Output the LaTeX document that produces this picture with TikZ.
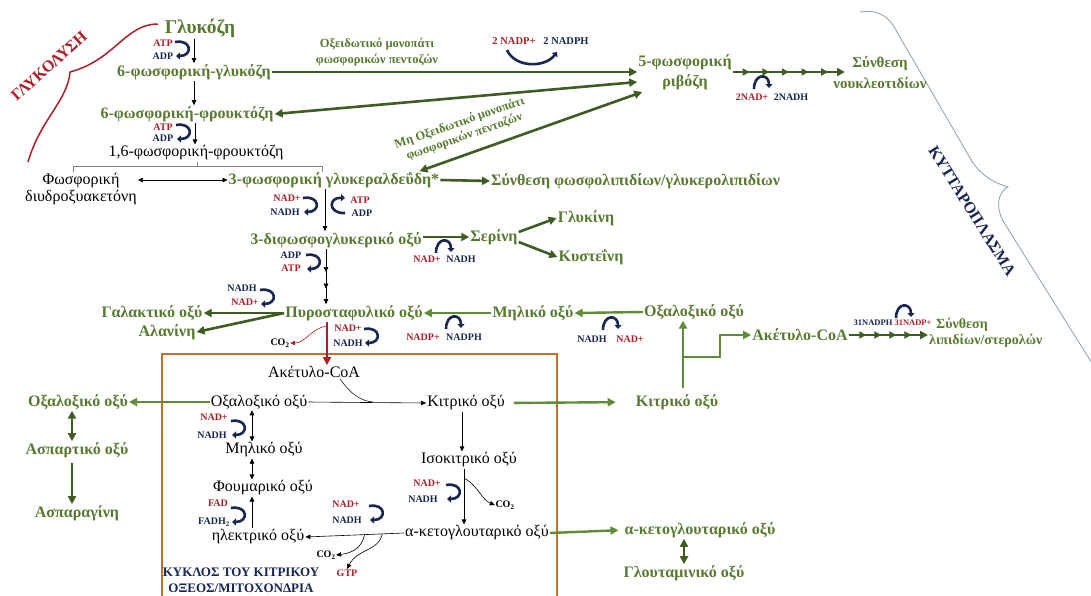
\documentclass[tikz,border=0pt]{standalone}
\usepackage{fontspec}
\setmainfont{Liberation Serif}
\usetikzlibrary{arrows.meta,decorations.markings,calc}
\definecolor{tgreen}{RGB}{88,122,48}
\definecolor{dgreen}{RGB}{62,92,35}
\definecolor{lgreen}{RGB}{96,140,56}
\definecolor{cred}{RGB}{175,30,40}
\definecolor{navy}{RGB}{25,38,80}
\definecolor{obox}{RGB}{192,112,42}
\definecolor{brgray}{RGB}{140,160,175}
\newcommand\cofD[2]{\draw[cof,shift={(#1,#2)}] (0,1) .. controls (17,-2) and (18,15) .. (1,15);}
\newcommand\cofB[2]{\draw[cof,shift={(#1,#2)}] (16,16) .. controls (-1,17) and (-1,0) .. (16,1);}
\newcommand\cofN[2]{\draw[cof,shift={(#1,#2)}] (0,12) .. controls (0,-4) and (15,-4) .. (15,11);}
\begin{document}
\begin{tikzpicture}[x=1pt,y=-1pt,
  gt/.style={text=tgreen,font=\bfseries\fontsize{16}{18}\selectfont,inner sep=1pt,align=center},
  bt/.style={text=black,font=\fontsize{16}{18}\selectfont,inner sep=1pt,align=center},
  sr/.style={text=cred,font=\bfseries\fontsize{10}{12}\selectfont,inner sep=0.5pt},
  sn/.style={text=navy,font=\bfseries\fontsize{10}{12}\selectfont,inner sep=0.5pt},
  sk/.style={text=black,font=\bfseries\fontsize{10}{12}\selectfont,inner sep=0.5pt},
  tarr/.style={draw=black,line width=0.6pt,-{Triangle[length=5pt,width=4.5pt]}},
  tarr2/.style={draw=black,line width=0.6pt,{Triangle[length=5pt,width=4.5pt]}-{Triangle[length=5pt,width=4.5pt]}},
  garr/.style={draw=dgreen,line width=2.6pt,-{Triangle[length=8pt,width=8pt]}},
  garr2/.style={draw=dgreen,line width=2.6pt,{Triangle[length=8pt,width=8pt]}-{Triangle[length=8pt,width=8pt]}},
  larr/.style={draw=lgreen,line width=2.4pt,-{Triangle[length=8pt,width=8pt]}},
  rarr/.style={draw=cred,line width=2.6pt,-{Triangle[length=8pt,width=8pt]}},
  cof/.style={draw=navy,line width=2.6pt,-{Triangle[length=4pt,width=7pt]}},
  multi/.style n args={3}{postaction={decorate},decoration={markings,mark=between positions #1 and #2 step #3 with {\arrow{Triangle[length=7pt,width=7pt]}}}},
  tmulti/.style={postaction={decorate},decoration={markings,mark=at position 0.42 with {\arrow{Triangle[length=5pt,width=4.5pt]}},mark=at position 0.72 with {\arrow{Triangle[length=5pt,width=4.5pt]}}}}
]
\useasboundingbox (0,0) rectangle (1091,595);
\clip (0,0) rectangle (1091,595);
\fill[white] (0,0) rectangle (1091,595);

% braces
\draw[cred,line width=1.5pt] (158,24) .. controls (125,24) and (115,60) .. (70,72) .. controls (68,100) and (40,120) .. (28,162);
\draw[brgray,line width=0.8pt] (860,12) .. controls (880,9) and (890,18) .. (897,32) -- (970,158) .. controls (980,176) and (995,183) .. (1008,187) .. controls (997,193) and (996,208) .. (1003,221) -- (1100,376);
\node[text=cred,font=\bfseries\fontsize{16}{18}\selectfont,rotate=42] (glyc) at (49,66) {ΓΛΥΚΟΛΥΣΗ};
\node[text=navy,font=\bfseries\fontsize{16}{18}\selectfont,rotate=-58] (cyto) at (972,211) {ΚΥΤΤΑΡΟΠΛΑΣΜΑ};

% mitochondrion box
\draw[obox,line width=2.5pt] (162,610) -- (162,354) -- (557,354) -- (557,610);

% main nodes
\node[gt,font=\bfseries\fontsize{19.5}{22}\selectfont] (glu) at (200,28) {Γλυκόζη};
\node[gt] (g6p) at (194,72) {6-φωσφορική-γλυκόζη};
\node[gt] (f6p) at (187,114) {6-φωσφορική-φρουκτόζη};
\node[bt] (f16) at (196,153) {1,6-φωσφορική-φρουκτόζη};
\node[bt,font=\fontsize{16}{17}\selectfont] (dhap) at (81,189) {Φωσφορική\\διυδροξυακετόνη};
\node[gt] (g3p) at (334,180) {3-φωσφορική γλυκεραλδεΰδη*};
\node[gt,anchor=west] (synph) at (490,181) {Σύνθεση φωσφολιπιδίων/γλυκερολιπιδίων};
\node[gt] (bpg) at (336,240) {3-διφωσφογλυκερικό οξύ};
\node[gt] (ser) at (494,237) {Σερίνη};
\node[gt] (gly) at (586,218) {Γλυκίνη};
\node[gt] (cys) at (591,257) {Κυστεΐνη};
\node[gt] (pyr) at (354,313) {Πυροσταφυλικό οξύ};
\node[gt] (mal) at (533,313) {Μηλικό οξύ};
\node[gt] (oaa) at (694,312) {Οξαλοξικό οξύ};
\node[gt] (lac) at (152,313) {Γαλακτικό οξύ};
\node[gt] (ala) at (167,332) {Αλανίνη};
\node[gt,font=\bfseries\fontsize{16}{20}\selectfont] (r5p) at (685,72) {5-φωσφορική\\ριβόζη};
\node[gt,font=\bfseries\fontsize{15}{21}\selectfont] (nuc) at (880,73) {Σύνθεση\\νουκλεοτιδίων};
\node[gt] (accoaG) at (800,335) {Ακέτυλο-CoA};
\node[gt,font=\bfseries\fontsize{14}{16}\selectfont,align=left,anchor=west] (lip) at (928,333) {\hspace*{7pt}Σύνθεση\\λιπιδίων/στερολών};
\node[gt] (citG) at (677,402) {Κιτρικό οξύ};
\node[gt] (oaaL) at (78,402) {Οξαλοξικό οξύ};
\node[gt] (asp) at (77,450) {Ασπαρτικό οξύ};
\node[gt] (asn) at (77,513) {Ασπαραγίνη};
\node[gt] (akgG) at (700,530) {α-κετογλουταρικό οξύ};
\node[gt] (glut) at (684,573) {Γλουταμινικό οξύ};

\node[bt] (accoa) at (314,372) {Ακέτυλο-CoA};
\node[bt] (oaaB) at (259,402) {Οξαλοξικό οξύ};
\node[bt] (cit) at (466,403) {Κιτρικό οξύ};
\node[bt] (iso) at (469,460) {Ισοκιτρικό οξύ};
\node[bt] (akg) at (477,533) {α-κετογλουταρικό οξύ};
\node[bt] (malB) at (264,450) {Μηλικό οξύ};
\node[bt] (fum) at (263,488) {Φουμαρικό οξύ};
\node[bt] (suc) at (258,537) {ηλεκτρικό οξύ};

\node[gt,font=\bfseries\fontsize{12.5}{16}\selectfont] (oxp) at (377,52) {Οξειδωτικό μονοπάτι\\φωσφορικών πεντοζών};
\node[gt,font=\bfseries\fontsize{12.5}{14.5}\selectfont,rotate=19] (noxp) at (462,130) {Μη Οξειδωτικό μονοπάτι\\φωσφορικών πεντοζών};
\node[text=navy,font=\bfseries\fontsize{13}{16}\selectfont,align=center] (tca) at (241,580) {ΚΥΚΛΟΣ ΤΟΥ ΚΙΤΡΙΚΟΥ\\ΟΞΕΟΣ/ΜΙΤΟΧΟΝΔΡΙΑ};

% cofactor labels
\node[sr] (l1) at (163,43) {ATP}; \node[sn] (l2) at (163,56) {ADP};
\node[sr] (l3) at (163,127) {ATP}; \node[sn] (l4) at (163,138) {ADP};
\node[sr] (l5) at (287,198) {NAD+}; \node[sn] (l6) at (285,212) {NADH};
\node[sr] (l7) at (360,200) {ATP}; \node[sn] (l8) at (362,213) {ADP};
\node[sn] (l9) at (291,255) {ADP}; \node[sr] (l10) at (291,268) {ATP};
\node[sn] (l11) at (242,288) {NADH}; \node[sr] (l12) at (245,302) {NAD+};
\node[sr] (l13) at (348,328) {NAD+}; \node[sn] (l14) at (348,343) {NADH};
\node[sk] (co2a) at (280,343) {CO\textsubscript{2}};
\node[sr] (l15) at (427,259) {NAD+}; \node[sn] (l16) at (461,259) {NADH};
\node[sr] (l17) at (423,337) {NADP+}; \node[sn] (l18) at (464,337) {NADPH};
\node[sn] (l19) at (592,339) {NADH}; \node[sr] (l20) at (630,339) {NAD+};
\node[sr] (l21) at (752,97) {2NAD+}; \node[sn] (l22) at (791,97) {2NADH};
\node[sn,font=\bfseries\fontsize{8.5}{10}\selectfont] (l23) at (873,323) {31NADPH}; \node[sr,font=\bfseries\fontsize{8.5}{10}\selectfont] (l24) at (913,323) {31NADP+};
\node[sr,font=\bfseries\fontsize{10.5}{12}\selectfont] (l25) at (514,41) {2 NADP+}; \node[sn,font=\bfseries\fontsize{10.5}{12}\selectfont] (l26) at (566,41) {2 NADPH};
\node[sr] (l27) at (214,417) {NAD+}; \node[sn] (l28) at (212,435) {NADH};
\node[sr] (l29) at (218,503) {FAD}; \node[sn] (l30) at (214,522) {FADH\textsubscript{2}};
\node[sr] (l31) at (427,483) {NAD+}; \node[sn] (l32) at (423,499) {NADH};
\node[sk] (co2b) at (505,505) {CO\textsubscript{2}};
\node[sr] (l33) at (346,504) {NAD+}; \node[sn] (l34) at (347,520) {NADH};
\node[sk] (co2c) at (326,555) {CO\textsubscript{2}};
\node[sr] (gtp) at (347,573) {GTP};

% cofactor curved arrows
\cofD{175}{41}
\cofD{176}{124}
\cofD{303}{197}
\cofB{329}{197}
\cofD{306}{254}
\cofD{260}{289}
\cofD{364}{328}
\cofN{436}{241}
\cofN{446}{317}
\cofN{603}{318}
\cofN{754}{77}
\cofN{896}{306}
\cofD{231}{420}
\cofD{231}{507}
\cofD{446}{484}
\cofD{369}{505}
\draw[cof] (507,50) .. controls (515,68) and (545,68) .. (557,52);

% glycolysis thin arrows
\draw[tarr] ([xshift=-6pt]glu.south) -- (g6p.north);
\draw[tarr] (g6p.south) -- ([xshift=7pt]f6p.north);
\draw[tarr] ([xshift=8pt]f6p.south) -- ([xshift=-1pt]f16.north);
\coordinate (brk) at (197,166);
\draw[gray,line width=0.6pt] (73,172) -- (73,166) -- (322,166) -- (322,172);
\draw[gray,line width=0.6pt] ([xshift=1pt]f16.south) -- (brk);
\draw[tarr2] (dhap.east |- g3p.west) -- (g3p.west);
\draw[tarr] ([xshift=-9pt]g3p.south) -- ([xshift=-11pt]bpg.north);
\draw[tarr,tmulti] ([xshift=-10pt]bpg.south) -- ([xshift=-28pt]pyr.north);

% green arrows, top
\coordinate (nucin) at (845,72);
\draw[garr] (g6p.east) -- (r5p.west);
\draw[garr2] (f6p.east) -- ([yshift=-10pt]r5p.west);
\draw[garr2] ([xshift=-21pt]g3p.north east) -- ([xshift=5pt,yshift=-20pt]r5p.west);
\draw[garr,multi={0.15}{0.86}{0.175}] (r5p.east) -- (nucin);
\draw[garr] (g3p.east) -- (synph.west);
\draw[garr] (bpg.east |- ser.west) -- (ser.west);
\draw[garr] ([yshift=5pt]ser.east) -- (gly.west);
\draw[garr] ([yshift=-5pt]ser.east) -- (cys.west);
\draw[garr] (pyr.west) -- (lac.east);
\draw[garr] (pyr.west) -- (ala.east);
\draw[larr] (mal.west) -- (pyr.east);
\draw[larr] (oaa.west) -- (mal.east);
\draw[garr,multi={0.22}{0.8}{0.19}] (accoaG.east) -- (accoaG.east -| lip.west);

% oxaloacetate / citrate branch
\coordinate (cv) at (683,388);
\coordinate (br) at (683,357);
\draw[larr] (cv) -- (cv |- oaa.south);
\draw[larr] (br) -- ++(37,0) |- (accoaG.west);

% pyruvate to acetyl-CoA
\draw[rarr] ([xshift=-27pt]pyr.south) -- ([xshift=13pt]accoa.north);
\draw[cred,line width=0.6pt,-{Triangle[length=5pt,width=4.5pt]}] ([xshift=-27pt,yshift=-4pt]pyr.south) .. controls (312,328) and (305,343) .. (co2a.east);

% TCA cycle
\draw[tarr] (oaaB.east) -- (cit.west);
\coordinate (jn) at (373,402);
\draw[black,line width=0.5pt] ($(accoa.south)+(26,0)$) .. controls (350,393) and (360,401) .. (jn);
\draw[tarr] ([xshift=-4pt]cit.south) -- ([xshift=-7pt]iso.north);
\draw[tarr] ([xshift=-5pt]iso.south) -- ([xshift=-13pt]akg.north);
\draw[tarr] ([xshift=-4pt,yshift=-10pt]iso.south) .. controls (478,486) and (482,500) .. (co2b.west);
\draw[tarr] (akg.west) -- (suc.east);
\draw[tarr] ($(akg.west)!0.4!(suc.east)$) .. controls (362,548) and (352,553) .. (co2c.east);
\draw[tarr] ($(akg.west)!0.22!(suc.east)$) .. controls (378,552) and (358,548) .. (gtp.north);
\draw[tarr] ([xshift=-6pt]suc.north) -- ([xshift=-11pt]fum.south);
\draw[tarr2] ([xshift=-11pt]fum.north) -- ([xshift=-12pt]malB.south);
\draw[tarr2] ([xshift=-12pt]malB.north) -- ([xshift=-7pt]oaaB.south);

% exits from mitochondrion
\draw[larr,shorten >=19pt,shorten <=8pt] (cit.east) -- (citG.west);
\draw[larr,shorten >=5pt] (akg.east) -- (akgG.west);
\draw[larr] (oaaB.west) -- (oaaL.east);
\draw[garr2] ([xshift=-6pt]oaaL.south) -- ([xshift=-5pt]asp.north);
\draw[garr,shorten <=4pt] ([xshift=-5pt]asp.south) -- ([xshift=-5pt]asn.north);
\draw[garr2] (akgG.south -| glut.north) -- (glut.north);
\end{tikzpicture}
\end{document}
